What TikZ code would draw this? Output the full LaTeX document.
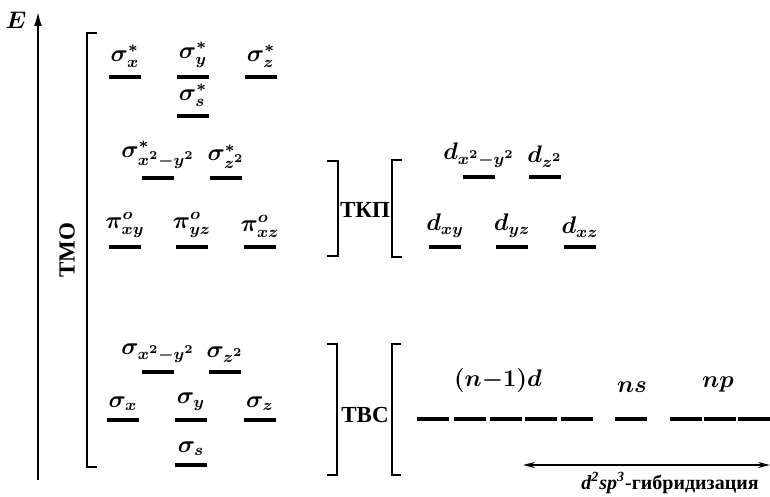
\documentclass[tikz,border=0pt]{standalone}
\usepackage{fontspec}
\usepackage{bm}
\newfontfamily\cyrserif{Liberation Serif}
\usetikzlibrary{arrows.meta,positioning}
\tikzset{
  lvl/.style={line width=1.6pt},
  lbl/.style={anchor=south,inner sep=1pt,font=\large},
  brk/.style={line width=0.9pt},
  grp/.style={font=\cyrserif\bfseries\fontsize{11.5}{13}\selectfont},
  hyblbl/.style={font=\cyrserif\bfseries},
}

\begin{document}
\begin{tikzpicture}[x=0.5pt,y=-0.5pt]
    \useasboundingbox (0,0) rectangle (770,497);
    % energy axis
    \coordinate (e0) at (38,480);
    \coordinate (e1) at (38,12);
    \draw[line width=0.9pt,-{Latex[length=7pt,width=4pt]}] (e0) -- (e1);
    \node[font=\large] (E) at (16,20) {$\bm{E}$};
    % molecular orbital levels
    \foreach \x/\y/\t/\n in {
      125/77/\sigma^{*}_{x}/sxa, 193/77/\sigma^{*}_{y}/sya, 261/77/\sigma^{*}_{z}/sza,
      193/116/\sigma^{*}_{s}/ssa,
      158/178/\sigma^{*}_{x^2-y^2}/sda, 226/178/\sigma^{*}_{z^2}/sza2,
      125/247/\pi^{o}_{xy}/pxy, 192/247/\pi^{o}_{yz}/pyz, 260/247/\pi^{o}_{xz}/pxz,
      158/372/\sigma_{x^2-y^2}/sd, 225/372/\sigma_{z^2}/sz2,
      123/420/\sigma_{x}/sx, 191/420/\sigma_{y}/sy, 260/420/\sigma_{z}/sz,
      191/465/\sigma_{s}/ss,
      479/177/d_{x^2-y^2}/dxy2, 545/177/d_{z^2}/dz2,
      445/247/d_{xy}/dxy, 512/247/d_{yz}/dyz, 580/247/d_{xz}/dxz}
    {
      \draw[lvl] (\x-16,\y) -- (\x+16,\y);
      \node[lbl] (\n) at (\x,\y-7) {$\bm{\t}$};
    }
    % atomic levels of the metal
    \foreach \x in {433,470,506,541,577,631,686,720,754}
      \draw[lvl] (\x-16,419) -- (\x+16,419);
    \node[lbl] (nd) at (498,395) {$\bm{(n{-}1)d}$};
    \node[lbl] (ns) at (632,395) {$\bm{ns}$};
    \node[lbl] (np) at (718,395) {$\bm{np}$};
    % brackets
    \draw[brk] (97,33) -- (87,33) -- (87,467) -- (97,467);
    \draw[brk] (327,161) -- (338,161) -- (338,256) -- (327,256);
    \draw[brk] (402,160) -- (392,160) -- (392,257) -- (402,257);
    \draw[brk] (327,344) -- (337,344) -- (337,475) -- (327,475);
    \draw[brk] (401,344) -- (392,344) -- (392,475) -- (401,475);
    \node[grp,rotate=90] (tmo) at (67,250) {ТМО};
    \node[grp] (tkp) at (365,210) {ТКП};
    \node[grp] (tvs) at (365,415) {ТВС};
    % hybridization range
    \coordinate (h0) at (523,465);
    \coordinate (h1) at (770,465);
    \draw[line width=0.8pt,{Stealth[length=6pt,width=3pt]}-{Stealth[length=6pt,width=3pt]}] (h0) -- (h1);
    \node[hyblbl] (hyb) at (670,483) {\itshape d\textsuperscript{2}sp\textsuperscript{3}\upshape-гибридизация};
\end{tikzpicture}
\end{document}
